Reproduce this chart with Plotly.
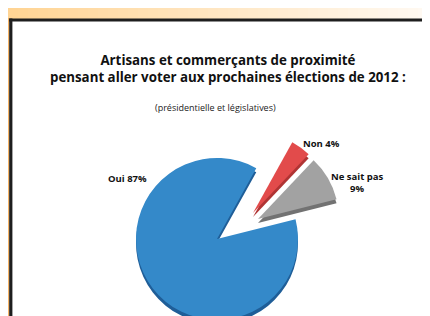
import plotly.graph_objects as go

# ---- data ----
labels = ["Non", "Ne sait pas", "Oui"]
values = [4, 9, 87]
label_sep = [" ", "<br>", " "]

title_line1 = "Artisans et commerçants de proximité"
title_line2 = "pensant aller voter aux prochaines élections de 2012 :"
subtitle = "(présidentielle et législatives)"

# ---- style ----
W, H = 430, 316
colors_top = ["#E24B4B", "#A2A2A2", "#3489C9"]
colors_side = ["#B03434", "#727272", "#1F5E98"]
FONT = "Open Sans"
ROTATION = 29

# pixel centre of each slice's pie (pulled slices offset), radius
centers = [(245, 205), (250, 211), (209, 231)]
R = 81
DEPTH = 4


def dom(cx, cy, r):
    y0 = max(0.0, (H - cy - r) / H)
    return dict(x=[(cx - r) / W, (cx + r) / W],
                y=[y0, (H - cy + r) / H])


def px(x):
    return x / W


def py(y):
    return 1 - y / H


fig = go.Figure()

# side (3D edge) layers first, then top faces
for cols, dy in ((colors_side, DEPTH), (colors_top, 0)):
    for i in range(len(labels)):
        cx, cy = centers[i]
        cl = ["rgba(0,0,0,0)"] * len(labels)
        cl[i] = cols[i]
        fig.add_trace(go.Pie(
            labels=labels, values=values, sort=False, direction="clockwise",
            rotation=ROTATION, marker=dict(colors=cl, line=dict(width=0)),
            textinfo="none", hoverinfo="skip", showlegend=False,
            domain=dom(cx, cy + dy, R),
        ))

shapes = []
# top gradient band
c0 = (255, 212, 148)
c1 = (255, 250, 244)
n = 43
for k in range(n):
    t = k / (n - 1)
    c = tuple(int(round(c0[j] + (c1[j] - c0[j]) * t)) for j in range(3))
    shapes.append(dict(type="rect", xref="paper", yref="paper",
                       x0=px(k * W / n), x1=px(min(W, (k + 1) * W / n + 0.5)),
                       y0=py(11), y1=py(0), line=dict(width=0),
                       fillcolor="rgb(%d,%d,%d)" % c, layer="below"))
# left orange strip
shapes.append(dict(type="rect", xref="paper", yref="paper", x0=0, x1=px(1.3),
                   y0=0, y1=py(10), line=dict(width=0), fillcolor="#F6B466",
                   layer="below"))
# black frame lines
shapes.append(dict(type="rect", xref="paper", yref="paper", x0=px(1.2), x1=1,
                   y0=py(13.6), y1=py(10.4), line=dict(width=0),
                   fillcolor="#1E1E1E", layer="below"))
shapes.append(dict(type="rect", xref="paper", yref="paper", x0=px(1.2), x1=px(4.4),
                   y0=0, y1=py(10.4), line=dict(width=0),
                   fillcolor="#1E1E1E", layer="below"))

annotations = [
    dict(text="<b>%s</b><br><b>%s</b>" % (title_line1, title_line2),
         x=px(220), y=py(60), xref="paper", yref="paper",
         showarrow=False, font=dict(family=FONT, size=13.3, color="#111"),
         xanchor="center", yanchor="middle", align="center"),
    dict(text=subtitle, x=px(207), y=py(99), xref="paper", yref="paper",
         showarrow=False, font=dict(family=FONT, size=9, color="#222"),
         xanchor="center", yanchor="middle"),
]

label_pos = [(313, 135), (349, 175), (119, 170)]
for i in range(len(labels)):
    annotations.append(dict(
        text="<b>%s%s%d%%</b>" % (labels[i], label_sep[i], values[i]),
        x=px(label_pos[i][0]), y=py(label_pos[i][1]), xref="paper", yref="paper",
        showarrow=False, font=dict(family=FONT, size=9.5, color="#111"),
        xanchor="center", yanchor="middle", align="center"))

fig.update_layout(width=W, height=H, margin=dict(l=0, r=0, t=0, b=0),
                  paper_bgcolor="white", plot_bgcolor="white",
                  shapes=shapes, annotations=annotations)

fig.write_html("out.html")
